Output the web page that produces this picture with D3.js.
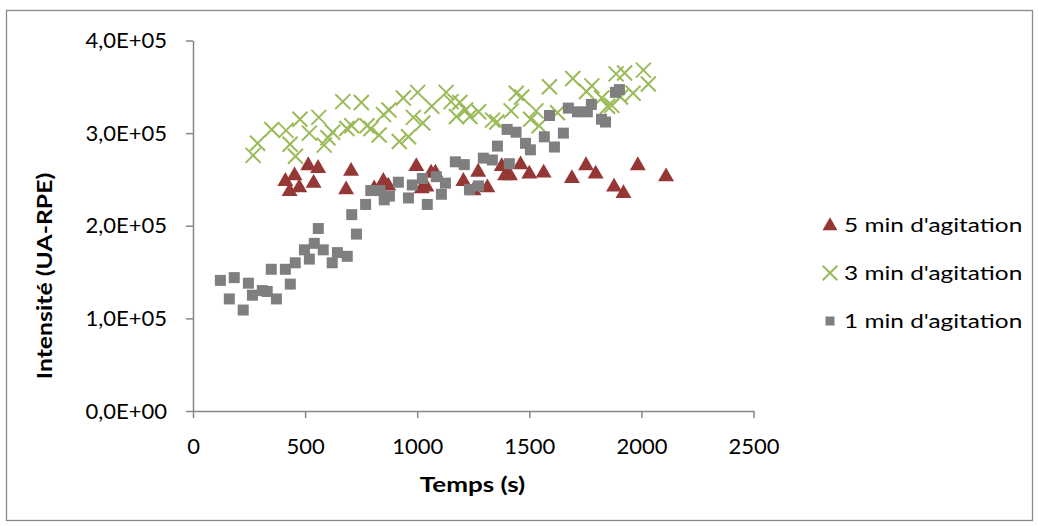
<!DOCTYPE html>
<html><head><meta charset="utf-8">
<script src="https://cdn.jsdelivr.net/npm/d3@7"></script>
<style>
body{margin:0;background:#fff;}
text{font-family:Lato,"Open Sans",sans-serif;fill:#000;}
</style></head>
<body><svg id="c" width="1039" height="526"></svg>
<script>
// ---- data ----
const seriesNames = ["5 min d'agitation", "3 min d'agitation", "1 min d'agitation"];
const xTicks = [0, 500, 1000, 1500, 2000, 2500];
const xTickLabels = ["0", "500", "1000", "1500", "2000", "2500"];
const yTicks = [0, 100000, 200000, 300000, 400000];
const yTickLabels = ["0,0E+00", "1,0E+05", "2,0E+05", "3,0E+05", "4,0E+05"];

const t5 = [412,453,431,474,514,558,538,705,683,808,849,871,996,1020,1041,1062,1081,1206,1272,1251,1313,1377,1392,1414,1461,1500,1564,1690,1753,1796,1878,1920,1984,2110];
const v5 = [248e3,254e3,237e3,241e3,265e3,262e3,246e3,259e3,239e3,240e3,248e3,243e3,264e3,240e3,242e3,257e3,257e3,248e3,258e3,238e3,241e3,264e3,254e3,254e3,266e3,256e3,257e3,251e3,265e3,256e3,242e3,235e3,265e3,253e3];

const t3 = [268,288,351,415,433,457,477,519,561,585,602,623,668,751,686,708,776,794,830,850,874,920,961,938,1002,983,1025,1065,1129,1151,1190,1175,1216,1235,1274,1336,1355,1419,1442,1466,1530,1506,1544,1590,1626,1694,1755,1779,1823,1849,1868,1887,1925,1907,1963,2009,2031];
const v3 = [276e3,289e3,304e3,303e3,288e3,275e3,315e3,300e3,317e3,287e3,295e3,301e3,334e3,333e3,305e3,308e3,308e3,305e3,298e3,320e3,325e3,291e3,296e3,338e3,344e3,317e3,311e3,329e3,344e3,334e3,333e3,318e3,325e3,318e3,323e3,314e3,312e3,324e3,343e3,339e3,324e3,315e3,308e3,350e3,322e3,359e3,345e3,351e3,338e3,329e3,330e3,364e3,365e3,339e3,343e3,368e3,353e3];

const t1 = [122,162,184,224,247,265,309,331,349,372,412,434,456,497,519,541,559,581,621,644,688,708,729,770,793,834,853,876,916,961,978,1023,1045,1085,1108,1126,1170,1210,1233,1273,1295,1335,1358,1401,1411,1441,1483,1505,1567,1590,1612,1652,1674,1715,1759,1777,1822,1840,1884,1902];
const v1 = [141e3,121e3,144e3,109e3,138e3,125e3,130e3,129e3,153e3,121e3,153e3,137e3,160e3,174e3,164e3,181e3,197e3,174e3,160e3,171e3,167e3,212e3,191e3,223e3,238e3,238e3,228e3,232e3,247e3,230e3,244e3,251e3,223e3,253e3,234e3,246e3,269e3,266e3,239e3,243e3,273e3,271e3,286e3,304e3,267e3,301e3,289e3,282e3,296e3,319e3,285e3,300e3,327e3,323e3,323e3,331e3,315e3,312e3,344e3,347e3];

// ---- drawing ----
const svg = d3.select("#c");
const axisColor = "#868686";
const red = "#953735", green = "#9bbb59", gray = "#7f7f7f";

svg.append("rect").attr("x", 6.5).attr("y", 10.5).attr("width", 1026).attr("height", 510)
  .attr("fill", "#fff").attr("stroke", "#8a8a8a").attr("stroke-width", 1.3);

const x = d3.scaleLinear().domain([0, 2500]).range([193, 753.5]);
const y = d3.scaleLinear().domain([0, 400000]).range([411, 40.5]);

const fs = 22;
const gx = svg.append("g").attr("transform", `translate(0,${y(0)})`)
  .call(d3.axisBottom(x).tickValues(xTicks).tickSize(7).tickSizeOuter(0).tickPadding(20)
    .tickFormat((d, i) => xTickLabels[i]));
const gy = svg.append("g").attr("transform", `translate(${x(0)},0)`)
  .call(d3.axisLeft(y).tickValues(yTicks).tickSize(7).tickSizeOuter(0).tickPadding(19)
    .tickFormat((d, i) => yTickLabels[i]));
[gx, gy].forEach(g => {
  g.select(".domain").attr("stroke", axisColor).attr("stroke-width", 1.5);
  g.selectAll(".tick line").attr("stroke", axisColor).attr("stroke-width", 1.5);
  g.selectAll("text").attr("font-size", fs).attr("font-family", "Lato, 'Open Sans', sans-serif").attr("fill", "#000");
});

svg.append("text").attr("transform", "translate(472.5,492) scale(1.3,1)").attr("text-anchor", "middle")
  .attr("font-size", 20).attr("font-weight", "bold").text("Temps (s)");
svg.append("text").attr("transform", "translate(45,276) rotate(-90) scale(1.24,1)").attr("text-anchor", "middle")
  .attr("dy", "0.36em").attr("font-size", 20).attr("font-weight", "bold").text("Intensité (UA-RPE)");

const tri = d3.symbol().type(d3.symbolTriangle).size(110);
const sq = d3.symbol().type(d3.symbolSquare).size(121);
function drawX(g, cx, cy, s) {
  g.append("path").attr("d", `M${cx - s},${cy - s}L${cx + s},${cy + s}M${cx - s},${cy + s}L${cx + s},${cy - s}`)
    .attr("stroke", green).attr("stroke-width", 2).attr("fill", "none");
}

const g3 = svg.append("g");
t3.forEach((t, i) => drawX(g3, x(t), y(v3[i]), 7.5));
svg.append("g").selectAll("path").data(t5).join("path")
  .attr("d", tri).attr("fill", red)
  .attr("transform", (d, i) => `translate(${x(d)},${y(v5[i])})`);
svg.append("g").selectAll("path").data(t1).join("path")
  .attr("d", sq).attr("fill", gray)
  .attr("transform", (d, i) => `translate(${x(d)},${y(v1[i])})`);

// legend
const lg = svg.append("g");
const rows = [225, 273, 321];
lg.append("path").attr("d", d3.symbol().type(d3.symbolTriangle).size(97)).attr("fill", red)
  .attr("transform", `translate(830,${rows[0] + 1})`);
drawX(lg, 830, rows[1], 7.3);
lg.append("path").attr("d", d3.symbol().type(d3.symbolSquare).size(81)).attr("fill", gray)
  .attr("transform", `translate(830,${rows[2]})`);
seriesNames.forEach((n, i) => {
  lg.append("text").attr("transform", `translate(844,${rows[i]}) scale(1.22,1)`).attr("dy", "0.36em")
    .attr("font-size", 20).text(n);
});
</script></body></html>
